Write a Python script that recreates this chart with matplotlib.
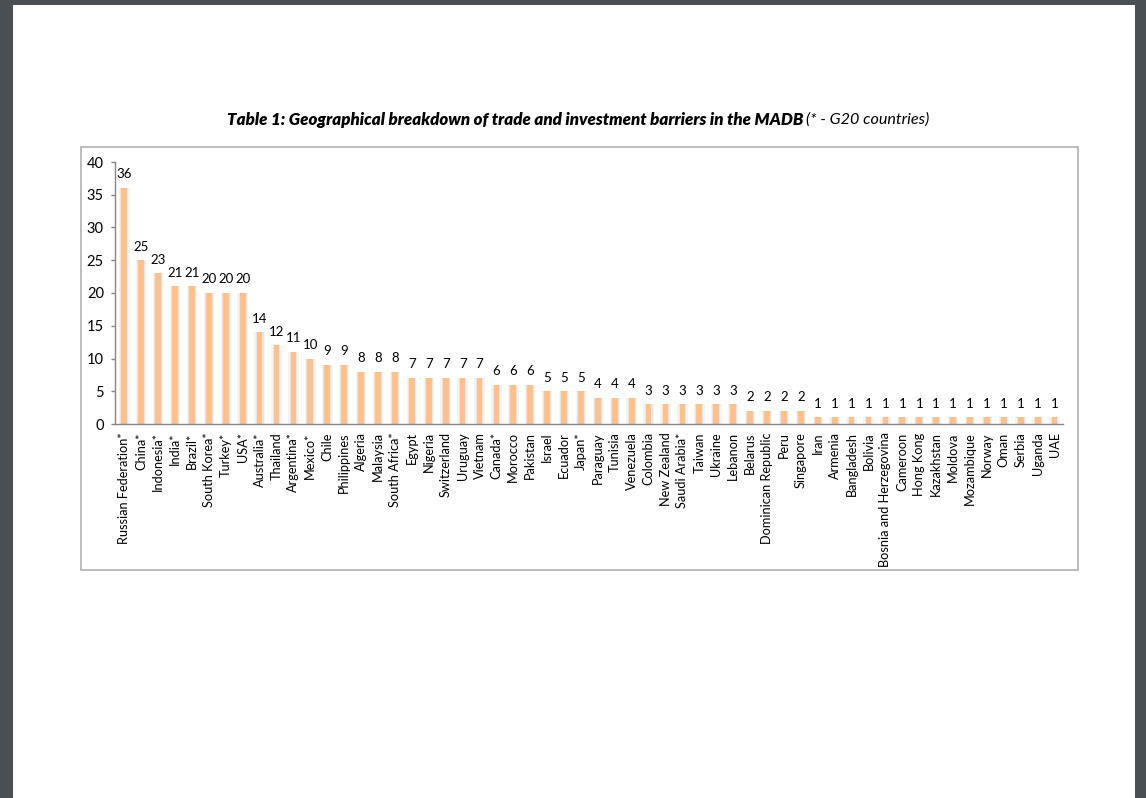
import matplotlib
matplotlib.use('Agg')
import matplotlib.pyplot as plt
from matplotlib.patches import Rectangle

countries = ["Russian Federation*", "China*", "Indonesia*", "India*", "Brazil*", "South Korea*",
             "Turkey*", "USA*", "Australia*", "Thailand", "Argentina*", "Mexico*", "Chile",
             "Philippines", "Algeria", "Malaysia", "South Africa*", "Egypt", "Nigeria",
             "Switzerland", "Uruguay", "Vietnam", "Canada*", "Morocco", "Pakistan", "Israel",
             "Ecuador", "Japan*", "Paraguay", "Tunisia", "Venezuela", "Colombia", "New Zealand",
             "Saudi Arabia*", "Taiwan", "Ukraine", "Lebanon", "Belarus", "Dominican Republic",
             "Peru", "Singapore", "Iran", "Armenia", "Bangladesh", "Bolivia",
             "Bosnia and Herzegovina", "Cameroon", "Hong Kong", "Kazakhstan", "Moldova",
             "Mozambique", "Norway", "Oman", "Serbia", "Uganda", "UAE"]
barriers = [36, 25, 23, 21, 21, 20, 20, 20, 14, 12, 11, 10, 9, 9, 8, 8, 8, 7, 7, 7, 7, 7,
            6, 6, 6, 5, 5, 5, 4, 4, 4, 3, 3, 3, 3, 3, 3, 2, 2, 2, 2,
            1, 1, 1, 1, 1, 1, 1, 1, 1, 1, 1, 1, 1, 1, 1]
yticks = [0, 5, 10, 15, 20, 25, 30, 35, 40]

plt.rcParams['font.family'] = ['Lato', 'DejaVu Sans']

W, H = 1146, 798
fig = plt.figure(figsize=(W / 100, H / 100), dpi=100)
fig.patch.set_facecolor('#4a4f53')


def fx(x):
    return x / W


def fy(y):
    return 1 - y / H


# page
fig.patches.append(Rectangle((fx(13), 0), fx(1135 - 13), fy(5), transform=fig.transFigure,
                             facecolor='white', edgecolor='none', zorder=-3))
# chart frame
fig.patches.append(Rectangle((fx(81), fy(570)), fx(1078 - 81), (570 - 147) / H,
                             transform=fig.transFigure, facecolor='white',
                             edgecolor='#b0b0b0', lw=1.2, zorder=-2))

ax = fig.add_axes([fx(115), fy(424), fx(1063 - 115), (424 - 162) / H])
ax.set_facecolor('none')

x = list(range(len(countries)))
ax.bar(x, barriers, width=0.62, color='#f3f3f3', zorder=1)
ax.bar(x, barriers, width=0.46, color='#e6e6e6', zorder=1.5)
ax.bar(x, barriers, width=0.34, color='#ffc08a', zorder=2)

for i, v in enumerate(barriers):
    ax.annotate(str(v), (i, v), xytext=(0, 7), textcoords='offset points',
                ha='center', va='baseline', fontsize=9.5, color='black')

ax.set_xlim(-0.55, len(countries) - 0.5)
ax.set_ylim(0, 40)
ax.set_yticks(yticks)
ax.set_xticks(x)
ax.set_xticklabels(countries, rotation=90, fontsize=9.2)
ax.tick_params(axis='x', length=0, pad=6)
ax.tick_params(axis='y', length=3, width=1, color='#868686', labelsize=10.5, pad=5, direction='out')

for s in ['top', 'right']:
    ax.spines[s].set_visible(False)
for s in ['left', 'bottom']:
    ax.spines[s].set_color('#868686')
    ax.spines[s].set_linewidth(1)

# title
fig.text(fx(803), fy(120), "Table 1: Geographical breakdown of trade and investment barriers in the MADB",
         ha='right', va='center', fontsize=12.2, fontweight='heavy', fontstyle='italic', color='black')
fig.text(fx(806), fy(120), "(* - G20 countries)", ha='left', va='center', fontsize=11.6,
         fontstyle='italic', color='black')

fig.savefig('out.png', dpi=100, facecolor=fig.get_facecolor())
